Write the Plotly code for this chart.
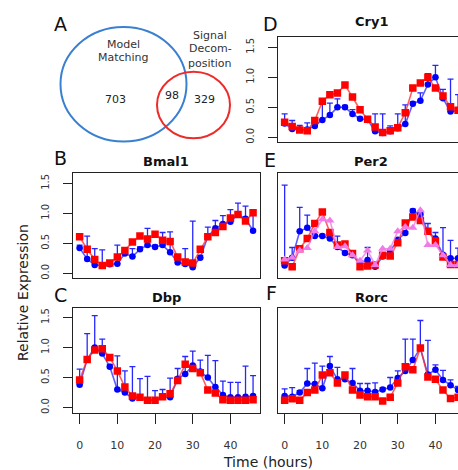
import plotly.graph_objects as go

W, H = 458, 470
hours = list(range(0, 48, 2))

# ---- data ----
bmal1_blue = [0.42,0.24,0.14,0.13,0.15,0.16,0.33,0.28,0.40,0.47,0.44,0.47,0.35,0.18,0.155,0.10,0.26,0.61,0.75,0.82,0.86,0.98,0.91,0.71]
bmal1_red  = [0.61,0.40,0.23,0.13,0.17,0.27,0.38,0.52,0.62,0.57,0.65,0.55,0.53,0.27,0.19,0.17,0.40,0.61,0.68,0.78,0.92,0.98,0.87,1.01]
bmal1_cap  = [0.47,0.62,0.41,0.39,0.18,0.47,0.37,0.41,0.44,0.75,0.47,0.68,0.69,0.22,0.41,0.87,0.30,0.77,0.88,0.96,1.06,1.17,1.12,1.00]

dbp_blue = [0.38,0.80,1.00,0.90,0.68,0.30,0.25,0.15,0.17,0.12,0.12,0.18,0.17,0.48,0.56,0.70,0.60,0.50,0.34,0.21,0.17,0.17,0.18,0.19]
dbp_red  = [0.46,0.80,0.96,0.98,0.835,0.61,0.34,0.19,0.17,0.12,0.12,0.18,0.23,0.45,0.72,0.65,0.58,0.29,0.24,0.13,0.12,0.12,0.12,0.13]
dbp_cap  = [0.64,1.23,1.53,1.14,0.72,0.86,0.61,0.68,0.48,0.52,0.28,0.30,0.49,0.65,0.85,0.94,0.79,0.87,0.78,0.44,0.42,0.42,0.69,0.53]

cry1_blue = [0.23,0.14,0.13,0.13,0.19,0.29,0.37,0.50,0.50,0.39,0.31,0.29,0.10,0.07,0.10,0.15,0.22,0.56,0.61,0.88,1.00,0.65,0.43,0.45]
cry1_red  = [0.25,0.18,0.12,0.11,0.28,0.60,0.71,0.74,0.87,0.67,0.46,0.30,0.17,0.08,0.11,0.16,0.41,0.82,0.905,1.00,0.82,0.69,0.51,0.45]
cry1_cap  = [0.39,0.28,0.20,0.24,0.22,0.57,0.57,0.64,0.53,0.46,0.33,0.33,0.39,0.39,0.19,0.39,0.54,0.59,0.74,1.06,1.20,0.80,0.97,0.71]

per2_blue = [0.13,0.26,0.70,0.76,0.62,0.62,0.58,0.44,0.34,0.30,0.18,0.22,0.11,0.28,0.37,0.56,0.67,1.04,0.98,0.70,0.58,0.31,0.25,0.25]
per2_red  = [0.21,0.11,0.41,0.58,0.83,1.02,0.68,0.47,0.49,0.33,0.11,0.12,0.14,0.30,0.29,0.51,0.84,0.94,0.88,0.70,0.54,0.27,0.145,0.145]
per2_pink = [0.23,0.26,0.38,0.42,0.70,0.90,0.88,0.44,0.45,0.30,0.21,0.38,0.14,0.41,0.41,0.70,0.77,0.76,1.05,0.47,0.47,0.30,0.14,0.14]
per2_cap  = [1.47,0.43,1.10,0.97,0.65,0.65,0.61,0.62,0.37,0.33,0.21,0.43,0.14,0.31,0.40,0.59,0.70,1.07,1.01,0.83,0.68,0.76,0.55,0.42]

rorc_blue = [0.19,0.18,0.25,0.40,0.39,0.32,0.69,0.47,0.47,0.41,0.28,0.28,0.26,0.30,0.335,0.49,0.61,0.79,0.99,0.55,0.63,0.46,0.37,0.29]
rorc_red  = [0.12,0.145,0.12,0.25,0.29,0.54,0.58,0.41,0.54,0.29,0.21,0.18,0.18,0.11,0.17,0.41,0.68,0.63,0.99,0.51,0.47,0.29,0.15,0.17]
rorc_cap  = [0.31,0.33,0.28,0.65,0.74,0.69,0.85,0.67,0.50,0.65,0.40,0.40,0.41,0.33,0.50,0.61,1.14,1.14,1.45,1.12,0.71,0.62,0.46,0.35]

panel_titles = ["Bmal1", "Dbp", "Cry1", "Per2", "Rorc"]
y_ticks = [0, 0.5, 1.0, 1.5]
y_tick_text = ["0.0", "0.5", "1.0", "1.5"]
x_ticks = [0, 10, 20, 30, 40]
venn_counts = ["703", "98", "329"]

FONT = "DejaVu Sans"
BLUE = "#0000ff"
RED = "#ff0000"
PINK = "#f27ae6"

def px(x):
    return x / W

def py(y):
    return 1 - y / H

fig = go.Figure()

# panel geometry in pixels (left, right, top, bottom)
cols = {"L": (72.7, 260.0), "R": (277.7, 458.0)}
rows = {1: (37.3, 142.3), 2: (173.3, 278.3), 3: (307.5, 412.5)}
panels = [
    # (axis index, col, row, blue, red, cap, pink, show y labels, show x labels)
    (1, "L", 2, bmal1_blue, bmal1_red, bmal1_cap, None, True, False),
    (2, "L", 3, dbp_blue, dbp_red, dbp_cap, None, True, True),
    (3, "R", 1, cry1_blue, cry1_red, cry1_cap, None, True, False),
    (4, "R", 2, per2_blue, per2_red, per2_cap, per2_pink, False, False),
    (5, "R", 3, rorc_blue, rorc_red, rorc_cap, None, False, True),
]

XR_L = [-1.84, 47.84]
scale = (cols["L"][1] - cols["L"][0]) / (XR_L[1] - XR_L[0])
XR_R = [-1.84, -1.84 + (cols["R"][1] - cols["R"][0]) / scale]
YR = [-0.083, 1.667]

layout_axes = {}
for idx, col, row, blue, red, cap, pink, showy, showx in panels:
    xa = "x" if idx == 1 else f"x{idx}"
    ya = "y" if idx == 1 else f"y{idx}"
    err = [max(c - b, 0) for c, b in zip(cap, blue)]
    fig.add_trace(go.Scatter(
        x=hours, y=blue, xaxis=xa, yaxis=ya, mode="lines+markers",
        line=dict(color="rgba(40,40,255,0.75)", width=1.6),
        marker=dict(symbol="circle", size=6.5, color=BLUE),
        error_y=dict(type="data", symmetric=False, array=err,
                     arrayminus=[0] * len(err), color="rgba(0,0,255,0.85)",
                     thickness=1.3, width=3),
        showlegend=False, hoverinfo="skip"))
    fig.add_trace(go.Scatter(
        x=hours, y=red, xaxis=xa, yaxis=ya, mode="lines+markers",
        line=dict(color="rgba(255,40,40,0.75)", width=1.6),
        marker=dict(symbol="square", size=7.5, color=RED),
        showlegend=False, hoverinfo="skip"))
    if pink is not None:
        fig.add_trace(go.Scatter(
            x=hours, y=pink, xaxis=xa, yaxis=ya, mode="lines+markers",
            line=dict(color="rgba(242,122,230,0.8)", width=1.6),
            marker=dict(symbol="triangle-up", size=8, color=PINK),
            showlegend=False, hoverinfo="skip"))

    x0, x1 = cols[col]
    t0, t1 = rows[row]
    key = "" if idx == 1 else str(idx)
    layout_axes[f"xaxis{key}"] = dict(
        domain=[px(x0), px(x1)], range=XR_L if col == "L" else XR_R,
        anchor=ya, showgrid=False, zeroline=False,
        showline=True, mirror=True, linecolor="#222", linewidth=1.2,
        ticks="outside" if showx else "", ticklen=10, tickwidth=1, tickcolor="#222",
        tickvals=x_ticks if showx else [], showticklabels=showx,
        tickfont=dict(family=FONT, size=11, color="#333"),
        ticklabelstandoff=12)
    layout_axes[f"yaxis{key}"] = dict(
        domain=[py(t1), py(t0)], range=YR, anchor=xa,
        showgrid=False, zeroline=False,
        showline=True, mirror=(col == "L"), linecolor="#222", linewidth=1.2,
        ticks="outside" if showy else "", ticklen=9, tickwidth=1, tickcolor="#222",
        tickvals=y_ticks if showy else [], ticktext=y_tick_text if showy else [],
        showticklabels=showy, tickangle=-90,
        tickfont=dict(family=FONT, size=10, color="#333"),
        ticklabelstandoff=10)

fig.update_layout(**layout_axes)

ann = []
def text(x, y, s, size, bold=False, color="#111", xanchor="center"):
    ann.append(dict(x=px(x), y=py(y), xref="paper", yref="paper", text=(f"<b>{s}</b>" if bold else s),
                    showarrow=False, xanchor=xanchor, yanchor="middle",
                    font=dict(family=FONT, size=size, color=color)))

# panel titles
text(166, 161, panel_titles[0], 13, True)
text(166, 297, panel_titles[1], 13, True)
text(371, 22, panel_titles[2], 13, True)
text(371, 161, panel_titles[3], 13, True)
text(371, 297, panel_titles[4], 13, True)

# panel letters
for s, x, y in [("A", 60, 24), ("B", 60, 158), ("C", 60, 295), ("D", 270, 24), ("E", 270, 160), ("F", 271, 293)]:
    text(x, y, s, 19, False, "#111")

# axis titles
text(268, 462, "Time (hours)", 14, False, "#222")
ann.append(dict(x=px(23), y=py(293), xref="paper", yref="paper", text="Relative Expression",
                showarrow=False, textangle=-90, xanchor="center", yanchor="middle",
                font=dict(family=FONT, size=14, color="#222")))

# venn text
text(123, 45, "Model", 11, False, "#333")
text(123, 57.5, "Matching", 11, False, "#333")
text(210, 35, "Signal", 11, False, "#333")
text(210, 49, "Decom-", 11, False, "#333")
text(210, 63, "position", 11, False, "#333")
text(116, 100, venn_counts[0], 11, False, "#222")
text(172, 96, venn_counts[1], 11, False, "#222")
text(204, 100, venn_counts[2], 11, False, "#222")

shapes = [
    dict(type="circle", xref="paper", yref="paper", x0=px(60.5), x1=px(186.5), y0=py(141.5), y1=py(27),
         line=dict(color="#3a80d0", width=2)),
    dict(type="circle", xref="paper", yref="paper", x0=px(157), x1=px(230), y0=py(138.3), y1=py(71.7),
         line=dict(color="#ee2a2a", width=2)),
]

fig.update_layout(width=W, height=H, margin=dict(l=0, r=0, t=0, b=0),
                  paper_bgcolor="white", plot_bgcolor="white",
                  annotations=ann, shapes=shapes, showlegend=False)

fig.write_html("out.html")
